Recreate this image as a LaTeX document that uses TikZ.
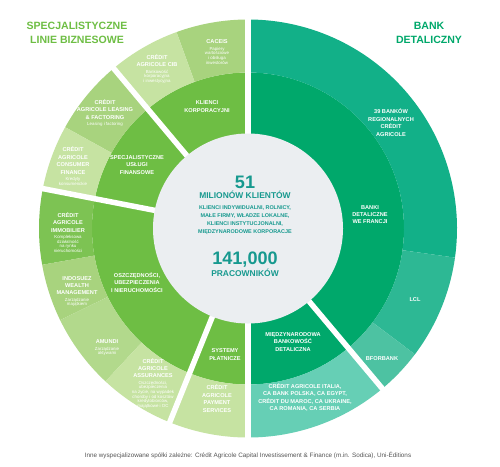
\documentclass[tikz,border=0pt]{standalone}
\usepackage{fontspec}
\setmainfont{Liberation Sans}
\usetikzlibrary{positioning}

\definecolor{leftmid}{HTML}{6EBE44}
\definecolor{leftA}{HTML}{A8D37E}
\definecolor{leftB}{HTML}{C6E3A2}
\definecolor{leftC}{HTML}{7DC353}
\definecolor{leftD}{HTML}{B2D98C}
\definecolor{rightmid}{HTML}{00A86B}
\definecolor{rightA}{HTML}{12B088}
\definecolor{rightB}{HTML}{2DB894}
\definecolor{rightC}{HTML}{4DC2A2}
\definecolor{rightD}{HTML}{66CFB5}
\definecolor{hubgray}{HTML}{EBEEF1}
\definecolor{hubteal}{HTML}{17998F}
\definecolor{notegray}{HTML}{555555}

\begin{document}
\begin{tikzpicture}[
  seg/.style   ={text=white, align=center, inner sep=0pt,
                 font=\fontsize{3.2}{4.2}\selectfont\bfseries},
  sub/.style   ={text=white, align=center, inner sep=0pt,
                 font=\fontsize{2.5}{2.6}\selectfont},
  title/.style ={align=center, inner sep=0pt,
                 font=\fontsize{6}{8}\selectfont\bfseries},
  hub/.style   ={text=hubteal, align=center, inner sep=0pt},
  gap/.style   ={white, line width=0.11cm}
]

% ---------- Canvas ----------
\fill[white] (-4.96,-4.75) rectangle (5.04,4.57);
\useasboundingbox (-4.96,-4.75) rectangle (5.04,4.57);

% ---------- Rings: from/to angle, inner/outer radius, colour ----------
\foreach \from/\to/\rin/\rout/\col in {
    90/270/0/3.12/leftmid, -90/90/0/3.12/rightmid,
    90/110/3.12/4.18/leftA,   110/130/3.12/4.18/leftB,
    130/151/3.12/4.18/leftA,  151/169/3.12/4.18/leftB,
    169/190/3.12/4.18/leftC,  190/206/3.12/4.18/leftA,
    206/227/3.12/4.18/leftD,  227/248/3.12/4.18/leftB,
    248/270/3.12/4.18/leftB,
    -8/90/3.12/4.18/rightA,   -37/-8/3.12/4.18/rightB,
    -50/-37/3.12/4.18/rightC, -90/-50/3.12/4.18/rightD}
  \fill[\col] (\from:\rin) arc[start angle=\from, end angle=\to, radius=\rin]
    -- (\to:\rout) arc[start angle=\to, end angle=\from, radius=\rout] -- cycle;

% ---------- White gaps ----------
\foreach \a in {90,130,169,248,270,-50}
  \draw[gap] (0,0) -- (\a:4.4);

\node[circle, fill=hubgray, minimum size=3.8cm, inner sep=0pt] (hub) at (0,0) {};

% ---------- Titles ----------
\node[title, text=leftmid]  (lefttitle)  at (-3.42,3.91) {SPECJALISTYCZNE\\LINIE BIZNESOWE};
\node[title, text=rightmid] (righttitle) at (3.62,3.91)  {BANK\\DETALICZNY};

% ---------- Left half ----------
\node[seg] (caceis) at (-0.62,3.73) {CACEIS};
\node[sub, below=0.5mm of caceis] (caceissub) {Papiery\\wartościowe\\i obsługa\\inwestorów};
\node[seg] (cib) at (-1.82,3.36) {CRÉDIT\\AGRICOLE CIB};
\node[sub, below=0.5mm of cib] (cibsub) {Bankowość\\korporacyjna\\i inwestycyjna};
\node[seg] (corp) at (-0.82,2.44) {KLIENCI\\KORPORACYJNI};
\node[seg] (leasing) at (-2.86,2.38) {CRÉDIT\\AGRICOLE LEASING\\\& FACTORING};
\node[sub, below=0.5mm of leasing] (leasingsub) {Leasing i factoring};
\node[seg] (consumer) at (-3.50,1.36) {CRÉDIT\\AGRICOLE\\CONSUMER\\FINANCE};
\node[sub, below=0.5mm of consumer] (consumersub) {Kredyty\\konsumenckie};
\node[seg] (special) at (-2.22,1.27) {SPECJALISTYCZNE\\USŁUGI\\FINANSOWE};
\node[seg] (immo) at (-3.60,0.12) {CRÉDIT\\AGRICOLE\\IMMOBILIER};
\node[sub, below=0.5mm of immo] (immosub) {Kompleksowa\\działalność\\na rynku\\nieruchomości};
\node[seg] (indosuez) at (-3.42,-1.14) {INDOSUEZ\\WEALTH\\MANAGEMENT};
\node[sub, below=0.5mm of indosuez] (indosuezsub) {Zarządzanie\\majątkiem};
\node[seg] (savings) at (-2.22,-1.08) {OSZCZĘDNOŚCI,\\UBEZPIECZENIA\\I NIERUCHOMOŚCI};
\node[seg] (amundi) at (-2.82,-2.27) {AMUNDI};
\node[sub, below=0.5mm of amundi] (amundisub) {Zarządzanie\\aktywami};
\node[seg] (assur) at (-1.90,-2.79) {CRÉDIT\\AGRICOLE\\ASSURANCES};
\node[sub, below=0.5mm of assur] (assursub) {Oszczędności,\\ubezpieczenia\\na życie, na wypadek\\choroby i od kosztów\\kredytobiorców,\\majątkowe i OC};
\node[seg] (payment) at (-0.46,-2.52) {SYSTEMY\\PŁATNICZE};
\node[seg] (caps) at (-0.62,-3.40) {CRÉDIT\\AGRICOLE\\PAYMENT\\SERVICES};

% ---------- Right half ----------
\node[seg] (regional) at (2.86,2.12) {39 BANKÓW\\REGIONALNYCH\\CRÉDIT\\AGRICOLE};
\node[seg] (france) at (2.44,0.28) {BANKI\\DETALICZNE\\WE FRANCJI};
\node[seg] (lcl) at (3.34,-1.43) {LCL};
\node[seg] (bforbank) at (2.68,-2.61) {BFORBANK};
\node[seg] (intl) at (0.90,-2.27) {MIĘDZYNARODOWA\\BANKOWOŚĆ\\DETALICZNA};
\node[seg] (abroad) at (1.14,-3.38) {CRÉDIT AGRICOLE ITALIA,\\CA BANK POLSKA, CA EGYPT,\\CRÉDIT DU MAROC, CA UKRAINE,\\CA ROMANIA, CA SERBIA};

% ---------- Hub ----------
\node[hub, font=\fontsize{10.3}{11}\selectfont\bfseries] (clients) at (-0.06,0.93) {51};
\node[hub, font=\fontsize{4.8}{5.5}\selectfont\bfseries] (clientslbl) at (-0.06,0.67) {MILIONÓW KLIENTÓW};
\node[hub, font=\fontsize{3.1}{4.5}\selectfont\bfseries] (clienttypes) at (-0.06,0.17)
  {KLIENCI INDYWIDUALNI, ROLNICY,\\MAŁE FIRMY, WŁADZE LOKALNE,\\KLIENCI INSTYTUCJONALNI,\\MIĘDZYNARODOWE KORPORACJE};
\node[hub, font=\fontsize{10.3}{11}\selectfont\bfseries] (staff) at (-0.06,-0.63) {141,000};
\node[hub, font=\fontsize{4.8}{5.5}\selectfont\bfseries] (stafflbl) at (-0.06,-0.89) {PRACOWNIKÓW};

% ---------- Footnote ----------
\node[text=notegray, inner sep=0pt, font=\fontsize{3.6}{4}\selectfont] (note) at (0,-4.53)
  {Inne wyspecjalizowane spółki zależne: Crédit Agricole Capital Investissement \& Finance (m.in. Sodica), Uni-Éditions};

\end{tikzpicture}
\end{document}
